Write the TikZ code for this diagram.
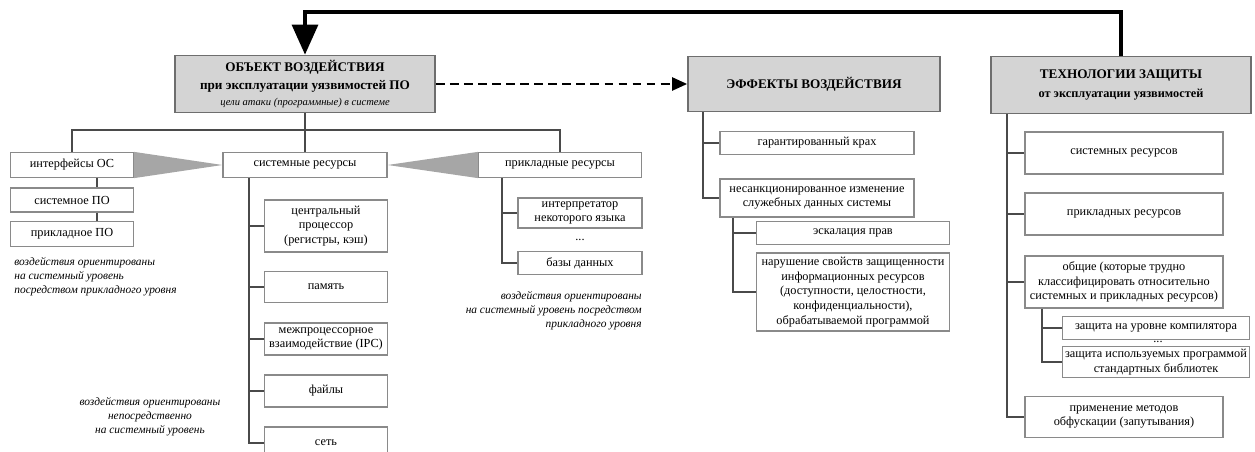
\documentclass[tikz,border=0pt]{standalone}
\usepackage{fontspec}
\setmainfont{Liberation Serif}
\usetikzlibrary{arrows.meta,calc}
\definecolor{boxline}{HTML}{8A8A8A}
\definecolor{headfill}{HTML}{D4D4D4}
\definecolor{linkgray}{HTML}{4A4A4A}
\definecolor{wedgegray}{HTML}{A6A6A6}
\newcommand{\boxfont}{\fontsize{7}{8.4}\selectfont}
\newcommand{\notefont}{\fontsize{6.5}{8}\selectfont\itshape}
\tikzset{
  headbox/.style={draw=boxline!80!black, fill=headfill, line width=1pt, align=center,
    inner sep=2pt},
  itembox/.style={draw=boxline, fill=white, line width=0.7pt, align=center,
    inner sep=1pt, font=\boxfont},
  tree/.style={draw=linkgray, line width=0.7pt},
  note/.style={font=\notefont, inner sep=0pt},
  wedge/.style={fill=wedgegray},
  back/.style={-{Triangle[length=6mm,width=5.2mm]}, line width=1.8pt},
  sidearrow/.style={-{Triangle[length=3mm,width=2.6mm]}, line width=1.3pt,
    dash pattern=on 5pt off 3pt},
}

\begin{document}
\begin{tikzpicture}[x=0.02cm, y=-0.02cm]
  \useasboundingbox (0,0) rectangle (1255,452);
  \clip (0,0) rectangle (1255,452);
  % headers
  \node[headbox, minimum width=5.2cm, minimum height=1.14cm] (obj) at (305,84)
    {\fontsize{7.5}{9}\selectfont\bfseries ОБЪЕКТ ВОЗДЕЙСТВИЯ\\[-1.5pt]
     \fontsize{7.5}{9}\selectfont\bfseries при эксплуатации уязвимостей ПО\\[-3pt]
     \fontsize{6}{7}\selectfont\itshape цели атаки (программные) в системе};
  \node[headbox, minimum width=5.04cm, minimum height=1.1cm] (eff) at (814,84)
    {\fontsize{7.5}{9}\selectfont\bfseries ЭФФЕКТЫ ВОЗДЕЙСТВИЯ};
  \node[headbox, minimum width=5.2cm, minimum height=1.14cm] (tech) at (1121,85)
    {\fontsize{7.5}{9}\selectfont\bfseries ТЕХНОЛОГИИ ЗАЩИТЫ\\[-1pt]
     \fontsize{7}{8.4}\selectfont\bfseries от эксплуатации уязвимостей};
  \coordinate (topline) at (0,12);
  \draw[back] (tech.north) |- (topline -| obj.north) -- (obj.north);
  \draw[sidearrow] (obj.east) -- (eff.west);

  % object of impact
  \node[itembox, minimum width=2.46cm, minimum height=0.5cm] (ifc) at (72,165) {интерфейсы ОС};
  \node[itembox, minimum width=2.46cm, minimum height=0.48cm] (syspo) at (72,200) {системное ПО};
  \node[itembox, minimum width=2.46cm, minimum height=0.5cm] (apppo) at (72,234) {прикладное ПО};
  \node[itembox, minimum width=3.28cm, minimum height=0.5cm] (sysres) at (305,165) {системные ресурсы};
  \node[itembox, minimum width=3.26cm, minimum height=0.5cm] (appres) at (560,165) {прикладные ресурсы};
  \coordinate (bar) at (0,130);
  \draw[tree] (obj.south) -- (obj.south |- bar);
  \draw[tree] (ifc.north) |- (appres.north |- bar) -- (appres.north);
  \draw[tree] (sysres.north) -- (sysres.north |- bar);
  \coordinate (lspine) at (97,0);
  \draw[tree] (lspine |- ifc.south) -- (lspine |- syspo.north);
  \draw[tree] (lspine |- syspo.south) -- (lspine |- apppo.north);
  \fill[wedge] (ifc.north east) -- (sysres.west) -- (ifc.south east) -- cycle;
  \fill[wedge] (appres.north west) -- (sysres.east) -- (appres.south west) -- cycle;
  \node[note, anchor=north west, align=left] (lnote) at (14,257)
    {воздействия ориентированы\\на системный уровень\\посредством прикладного уровня};

  % system resources
  \node[itembox, minimum width=2.46cm, minimum height=1.04cm] (cpu) at (326,226)
    {центральный\\процессор\\(регистры, кэш)};
  \node[itembox, minimum width=2.46cm, minimum height=0.62cm] (mem) at (326,287) {память};
  \node[itembox, minimum width=2.46cm, minimum height=0.64cm] (ipc) at (326,339)
    {межпроцессорное\\взаимодействие (IPC)};
  \node[itembox, minimum width=2.46cm, minimum height=0.64cm] (files) at (326,391) {файлы};
  \node[itembox, minimum width=2.46cm, minimum height=0.64cm] (net) at (326,443) {сеть};
  \coordinate (sspine) at (249,0);
  \draw[tree] (sspine |- sysres.south) |- (net.west);
  \foreach \n in {cpu,mem,ipc,files}
    \draw[tree] (sspine |- \n.west) -- (\n.west);
  \node[note, align=center] (snote) at (150,417)
    {воздействия ориентированы\\непосредственно\\на системный уровень};

  % application resources
  \node[itembox, minimum width=2.48cm, minimum height=0.6cm] (interp) at (580,213)
    {интерпретатор\\некоторого языка};
  \node[font=\boxfont, inner sep=0pt] (adots) at (580,240) {...};
  \node[itembox, minimum width=2.48cm, minimum height=0.46cm] (db) at (580,263) {базы данных};
  \coordinate (aspine) at (502,0);
  \draw[tree] (aspine |- appres.south) |- (db.west);
  \draw[tree] (aspine |- interp.west) -- (interp.west);
  \node[note, anchor=north east, align=right] (anote) at (642,291)
    {воздействия ориентированы\\на системный уровень посредством\\прикладного уровня};

  % effects
  \node[itembox, minimum width=3.88cm, minimum height=0.46cm] (crash) at (817,143) {гарантированный крах};
  \node[itembox, minimum width=3.88cm, minimum height=0.76cm] (change) at (817,198)
    {несанкционированное изменение\\служебных данных системы};
  \node[itembox, minimum width=3.86cm, minimum height=0.46cm] (esc) at (853,233) {эскалация прав};
  \node[itembox, minimum width=3.86cm, minimum height=1.56cm] (viol) at (853,292)
    {нарушение свойств защищенности\\информационных ресурсов\\(доступности, целостности,\\конфиденциальности),\\обрабатываемой программой};
  \coordinate (espine) at (703,0);
  \draw[tree] (espine |- eff.south) |- (change.west);
  \draw[tree] (espine |- crash.west) -- (crash.west);
  \coordinate (esub) at (733,0);
  \draw[tree] (esub |- change.south) |- (viol.west);
  \draw[tree] (esub |- esc.west) -- (esc.west);

  % protection
  \node[itembox, minimum width=3.96cm, minimum height=0.84cm] (tsys) at (1124,153) {системных ресурсов};
  \node[itembox, minimum width=3.96cm, minimum height=0.84cm] (tapp) at (1124,214) {прикладных ресурсов};
  \node[itembox, minimum width=3.96cm, minimum height=1.04cm] (tgen) at (1124,282)
    {общие (которые трудно\\классифицировать относительно\\системных и прикладных ресурсов)};
  \node[itembox, minimum width=3.74cm, minimum height=0.46cm] (comp) at (1156,328) {защита на уровне компилятора};
  \node[font=\boxfont, inner sep=0pt] (tdots) at (1158,342) {...};
  \node[itembox, minimum width=3.74cm, minimum height=0.62cm] (lib) at (1156,362)
    {защита используемых программой\\стандартных библиотек};
  \node[itembox, minimum width=3.96cm, minimum height=0.82cm] (obf) at (1124,417)
    {применение методов\\обфускации (запутывания)};
  \coordinate (tspine) at (1007,0);
  \draw[tree] (tspine |- tech.south) |- (obf.west);
  \foreach \n in {tsys,tapp,tgen}
    \draw[tree] (tspine |- \n.west) -- (\n.west);
  \coordinate (tsub) at (1042,0);
  \draw[tree] (tsub |- tgen.south) |- (lib.west);
  \draw[tree] (tsub |- comp.west) -- (comp.west);
\end{tikzpicture}
\end{document}
